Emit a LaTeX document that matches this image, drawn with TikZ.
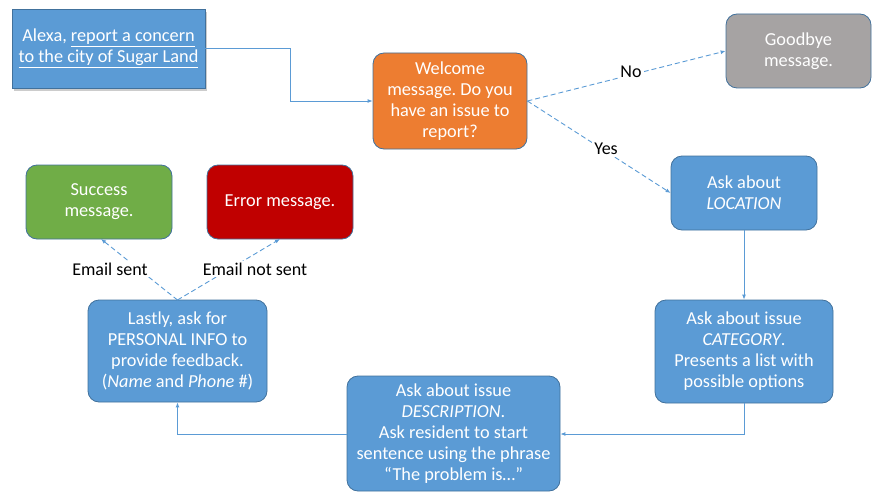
\documentclass[tikz,border=0pt]{standalone}
\usepackage{fontspec}
\setmainfont{Carlito}
\frenchspacing
\usetikzlibrary{arrows.meta,shadows}
\definecolor{cblue}{HTML}{5B9BD5}
\definecolor{cbord}{HTML}{41719C}
\definecolor{corange}{HTML}{ED7D31}
\definecolor{cgray}{HTML}{A6A3A3}
\definecolor{cgreen}{HTML}{70AD47}
\definecolor{cred}{HTML}{C00000}
\tikzset{
  box/.style={draw=cbord, line width=0.8pt, rounded corners=11pt, text=white, align=center,
    font=\fontsize{18.3}{21}\selectfont, inner sep=0pt},
  conn/.style={draw=cblue, line width=0.9pt, -{Latex[length=5pt,width=4pt]}},
  dconn/.style={conn, dashed, dash pattern=on 5pt off 3pt},
  lbl/.style={fill=white, text=black, font=\fontsize{18}{20}\selectfont, inner sep=2pt}
}
\begin{document}
\begin{tikzpicture}[x=1pt,y=-1pt]
\useasboundingbox (0,0) rectangle (893,500);
\node[box, rounded corners=0pt, fill=cblue, minimum width=193pt, minimum height=79pt,
  drop shadow={shadow xshift=2pt, shadow yshift=-3pt, opacity=0.4}] (alexa) at (108.5,48.5)
  {Alexa, \underline{report a concern}\\\underline{to the city of Sugar Land}};
\node[box, fill=corange, minimum width=154pt, minimum height=96pt] (welcome) at (450,101)
  {Welcome\\message. Do you\\have an issue to\\report?};
\node[box, fill=cgray, minimum width=145pt, minimum height=74pt] (bye) at (798.5,51)
  {Goodbye\\message.};
\node[box, fill=cblue, minimum width=146pt, minimum height=74pt] (loc) at (744,193)
  {Ask about\\\textit{LOCATION}};
\node[box, fill=cblue, minimum width=178pt, minimum height=103pt] (cat) at (744,351.5)
  {Ask about issue\\\textit{CATEGORY}.\\Presents a list with\\possible options};
\node[box, fill=cblue, minimum width=213pt, minimum height=115pt] (desc) at (453.5,433.5)
  {Ask about issue\\\textit{DESCRIPTION}.\\Ask resident to start\\sentence using the phrase\\``The problem is\ldots''};
\node[box, fill=cblue, minimum width=179pt, minimum height=102pt] (last) at (177.5,351)
  {Lastly, ask for\\PERSONAL INFO to\\provide feedback.\\(\textit{Name} and \textit{Phone} \#)};
\node[box, fill=cgreen, minimum width=146pt, minimum height=74pt] (succ) at (99,202)
  {Success\\message.};
\node[box, fill=cred, minimum width=146pt, minimum height=74pt] (err) at (280,202)
  {Error message.};

\draw[conn] (alexa.east) -- (290,48.5) -- (290,101) -- (welcome.west);
\draw[dconn] (welcome.east) -- (bye.west);
\draw[dconn] (welcome.east) -- (loc.west);
\node[lbl] (no) at (631,72) {No};
\node[lbl] (yes) at (606,149) {Yes};
\draw[conn] (loc.south) -- (cat.north);
\draw[conn] (cat.south) -- (744,434) -- (desc.east |- 0,434);
\draw[conn] (desc.west |- 0,434) -- (177.5,434) -- (last.south);
\coordinate (lt) at (177.5,300);
\coordinate (sb) at (101,239);
\coordinate (eb) at (280,239);
\draw[dconn] (lt) -- (sb);
\draw[dconn] (lt) -- (eb);
\node[lbl] (es) at (110,269) {Email sent};
\node[lbl] (ens) at (255,269) {Email not sent};
\end{tikzpicture}
\end{document}
